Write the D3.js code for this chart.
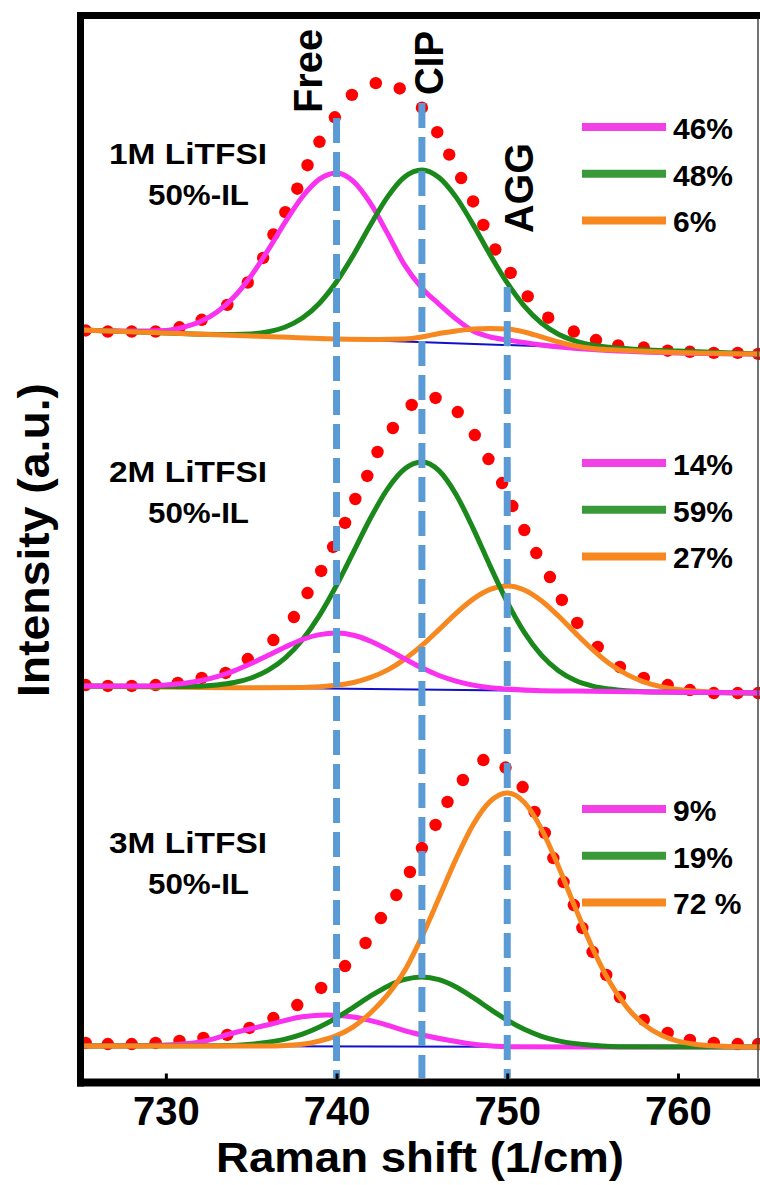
<!DOCTYPE html>
<html><head><meta charset="utf-8">
<script src="https://cdn.jsdelivr.net/npm/d3@7"></script>
<style>
html,body{margin:0;padding:0;background:#fff;overflow:hidden}
svg{display:block}
text{font-family:"Liberation Sans",Arial,Helvetica,sans-serif;font-weight:bold;fill:#000}
</style>
</head><body>
<svg id="chart" width="760" height="1185"></svg>
<script>
// ---------------- DATA ----------------
const xTicks = [730, 740, 750, 760];
const peakNames = ["Free", "CIP", "AGG"];
const peakShifts = [740, 745, 750];
const sampleNames = ["1M LiTFSI", "2M LiTFSI", "3M LiTFSI"];
const sampleSub = "50%-IL";
const fractions1 = ["46%", "48%", "6%"];
const fractions2 = ["14%", "59%", "27%"];
const fractions3 = ["9%", "19%", "72 %"];

// Panel 1 (1M) : [Raman shift, intensity a.u.]
const exp1 = [[725.3,70.5],[726.6,70.4],[728.0,70.4],[729.4,70.4],[730.8,70.8],[732.1,71.5],[733.6,72.9],[734.8,75.0],[735.7,77.3],[736.3,79.5],[737.0,81.6],[737.7,83.8],[738.3,86.0],[739.0,88.2],[739.9,90.5],[740.9,92.6],[742.3,93.7],[743.7,93.2],[745.0,91.4],[745.9,89.1],[746.6,87.0],[747.3,84.8],[748.0,82.6],[748.6,80.4],[749.3,78.1],[750.2,75.9],[751.2,73.7],[752.4,71.7],[753.9,70.4],[755.2,69.6],[756.5,69.1],[758.0,68.9],[759.4,68.6],[760.7,68.5],[762.1,68.4],[763.5,68.4],[764.7,68.3]];
const free1 = [[725,70.54],[728,70.45],[730,70.50],[731,70.79],[732,71.31],[733,72.23],[734,73.66],[735,75.64],[736,78.07],[737,80.69],[738,83.05],[739,84.70],[740,85.27],[741,84.46],[742,82.39],[743,79.56],[744,76.60],[745,74.48],[746,72.98],[747,71.58],[748,70.45],[749,69.89],[750,69.61],[752,69.14],[755,68.71],[760,68.39],[765,68.29]];
const cip1 = [[725,70.54],[730,70.26],[733,70.12],[735,70.18],[736,70.38],[737,70.83],[738,71.67],[739,73.06],[740,75.07],[741,77.61],[742,80.44],[743,83.06],[744,84.92],[745,85.56],[746,84.85],[747,83.01],[748,80.43],[749,77.59],[750,74.96],[751,72.79],[752,71.20],[753,70.15],[754,69.50],[755,69.12],[756,68.92],[758,68.68],[760,68.57],[765,68.29]];
const agg1 = [[725,70.54],[730,70.26],[735,69.98],[740,69.70],[742.5,69.66],[744,69.70],[745,69.89],[746,70.22],[747,70.45],[748,70.64],[749,70.68],[750,70.64],[751,70.36],[752,69.89],[753,69.42],[754,69.04],[755,68.81],[757,68.62],[760,68.43],[765,68.29]];
const base1 = [[725,70.54],[765,68.29]];

// Panel 2 (2M)
const exp2 = [[725.3,37.24],[726.6,37.15],[728.0,37.15],[729.4,37.24],[730.7,37.43],[732.1,37.90],[733.5,38.37],[734.8,39.68],[736.3,41.46],[737.5,43.62],[738.3,45.87],[739.1,47.94],[739.8,50.19],[740.5,52.44],[741.1,54.69],[741.8,56.85],[742.4,59.10],[743.3,61.35],[744.4,63.51],[745.8,64.17],[747.1,62.85],[748.1,60.69],[748.9,58.44],[749.7,56.19],[750.3,54.03],[751.0,51.78],[751.7,49.62],[752.5,47.37],[753.2,45.22],[754.1,43.06],[755.3,40.81],[756.6,38.93],[758.0,37.90],[759.4,37.24],[760.7,36.77],[762.1,36.49],[763.5,36.49],[764.7,36.49]];
const free2 = [[725,37.15],[728,37.14],[730,37.25],[732,37.64],[733,38.03],[734,38.57],[735,39.25],[736,40.03],[737,40.81],[738,41.51],[739,41.97],[740,42.12],[741,41.91],[742,41.35],[743,40.56],[744,39.69],[745,38.85],[746,38.13],[747,37.61],[748,37.23],[749,36.99],[750,36.86],[752,36.71],[755,36.66],[760,36.57],[765,36.49]];
const cip2 = [[725,37.15],[731,37.09],[733,37.25],[734,37.47],[735,37.90],[736,38.63],[737,39.78],[738,41.49],[739,43.77],[740,46.60],[741,49.76],[742,52.93],[743,55.66],[744,57.52],[745,58.16],[746,57.35],[747,55.12],[748,51.94],[749,48.39],[750,45.02],[751,42.18],[752,40.04],[753,38.58],[754,37.66],[755,37.14],[756,36.86],[758,36.61],[760,36.57],[765,36.49]];
const agg2 = [[725,37.15],[735,36.99],[738,37.01],[740,37.21],[741,37.48],[742,37.95],[743,38.66],[744,39.67],[745,40.95],[746,42.44],[747,43.97],[748,45.30],[749,46.21],[750,46.53],[751,46.16],[752,45.15],[753,43.72],[754,42.11],[755,40.57],[756,39.24],[757,38.24],[758,37.54],[759,37.09],[760,36.82],[761,36.67],[763,36.52],[765,36.49]];
const base2 = [[725,37.15],[765,36.49]];

// Panel 3 (3M)
const exp3 = [[725.3,3.66],[726.6,3.56],[728.0,3.56],[729.4,3.66],[730.8,3.85],[732.2,4.13],[733.6,4.41],[734.9,5.07],[736.3,6.00],[737.7,7.22],[739.1,8.82],[740.5,10.88],[741.7,13.04],[742.6,15.38],[743.5,17.54],[744.3,19.70],[745.0,21.95],[745.8,24.11],[746.5,26.27],[747.4,28.33],[748.6,30.2],[749.9,29.5],[750.9,27.67],[751.6,25.33],[752.2,23.36],[752.7,21.01],[753.3,18.76],[753.9,16.60],[754.4,14.45],[755.0,12.20],[755.8,10.04],[756.6,7.97],[758.0,5.82],[759.4,4.60],[760.7,3.94],[762.1,3.66],[763.5,3.56],[764.7,3.56]];
const free3 = [[725,3.38],[728,3.40],[730,3.47],[732,3.75],[734,4.62],[736,5.37],[738,6.12],[739.4,6.29],[741,6.10],[742.5,5.55],[744.5,4.60],[746.5,3.94],[748.4,3.47],[750.3,3.30],[755,3.28],[765,3.28]];
const cip3 = [[725,3.38],[733,3.40],[735,3.55],[736,3.73],[737,4.02],[738,4.49],[739,5.16],[740,6.02],[741,7.03],[742,8.07],[743,8.99],[744,9.62],[745,9.85],[746,9.60],[747,8.92],[748,7.93],[749,6.83],[750,5.80],[751,4.94],[752,4.29],[753,3.86],[754,3.60],[755,3.45],[757,3.30],[765,3.28]];
const agg3 = [[725,3.38],[736,3.38],[737,3.43],[738,3.54],[739,3.85],[740,4.35],[741,5.20],[742,6.50],[743,8.20],[744,10.47],[745,13.64],[746,17.26],[747,20.93],[748,24.14],[749,26.32],[750,27.11],[751,26.23],[752,23.75],[753,20.22],[754,16.29],[755,12.54],[756,9.38],[757,7.02],[758,5.41],[759,4.41],[760,3.83],[761,3.54],[762,3.39],[764,3.28],[765,3.28]];
const base3 = [[725,3.38],[765,3.28]];

// ---------------- STYLE / LAYOUT ----------------
const colors = {free: "#f832ee", cip: "#1a881a", agg: "#f7881f", dot: "#ff0000", base: "#1010c8", dash: "#5b9bd5"};
const legendColors = ["#f23fe6", "#3a9a3a", "#f7881f"];

const svg = d3.select("#chart");
const x = d3.scaleLinear().domain([725, 765]).range([80.5, 763.3]);
const y = d3.scaleLinear().domain([0, 100]).range([1082, 16]);
const line = d3.line().x(d => x(d[0])).y(d => y(d[1])).curve(d3.curveMonotoneX);

const panels = [
  {exp: exp1, base: base1, comps: [["free", free1], ["cip", cip1], ["agg", agg1]], frac: fractions1, labelY: 164, legY: 127},
  {exp: exp2, base: base2, comps: [["agg", agg2], ["cip", cip2], ["free", free2]], frac: fractions2, labelY: 482, legY: 463},
  {exp: exp3, base: base3, comps: [["free", free3], ["cip", cip3], ["agg", agg3]], frac: fractions3, labelY: 853, legY: 809}
];

const plot = svg.append("g");
panels.forEach((p, i) => {
  const g = plot.append("g");
  g.selectAll("circle").data(p.exp).join("circle")
    .attr("cx", d => x(d[0])).attr("cy", d => y(d[1])).attr("r", 6.2)
    .attr("fill", colors.dot);
  g.append("path").datum(p.base).attr("d", line)
    .attr("fill", "none").attr("stroke", colors.base).attr("stroke-width", 2);
  p.comps.forEach(([k, data]) => {
    g.append("path").datum(data).attr("d", line)
      .attr("fill", "none").attr("stroke", colors[k]).attr("stroke-width", 5)
      .attr("stroke-linejoin", "round");
  });
  // sample label
  g.append("text").attr("x", 109).attr("y", p.labelY).attr("font-size", 30)
    .attr("textLength", 158).attr("lengthAdjust", "spacingAndGlyphs").text(sampleNames[i]);
  g.append("text").attr("x", 148).attr("y", p.labelY + 41).attr("font-size", 30)
    .attr("textLength", 101).attr("lengthAdjust", "spacingAndGlyphs").text(sampleSub);
  // legend
  p.frac.forEach((f, j) => {
    const ly = p.legY + j * 46.7;
    g.append("line").attr("x1", 582).attr("x2", 666).attr("y1", ly).attr("y2", ly)
      .attr("stroke", legendColors[j]).attr("stroke-width", 8);
    g.append("text").attr("x", 673).attr("y", ly + 12).attr("font-size", 30).text(f);
  });
});

// dashed reference lines
const dashTop = [118, 103, 287];
peakShifts.forEach((s, i) => {
  svg.append("line").attr("x1", x(s)).attr("x2", x(s)).attr("y1", dashTop[i]).attr("y2", 1078)
    .attr("stroke", colors.dash).attr("stroke-width", 7).attr("stroke-dasharray", "25 9");
});
// peak labels (rotated)
const peakLabelPos = [[322, 71], [443, 63], [533, 188]];
const peakLabelLen = [84, 64, 90];
peakNames.forEach((n, i) => {
  svg.append("text")
    .attr("transform", `translate(${peakLabelPos[i][0]},${peakLabelPos[i][1]}) rotate(-90)`)
    .attr("text-anchor", "middle").attr("font-size", 41)
    .attr("textLength", peakLabelLen[i]).attr("lengthAdjust", "spacingAndGlyphs")
    .text(n);
});

// frame
svg.append("line").attr("x1", 80.5).attr("x2", 80.5).attr("y1", 12).attr("y2", 1086.5).attr("stroke", "#000").attr("stroke-width", 7);
svg.append("line").attr("x1", 77).attr("x2", 760).attr("y1", 15.5).attr("y2", 15.5).attr("stroke", "#000").attr("stroke-width", 7);
svg.append("line").attr("x1", 77).attr("x2", 760).attr("y1", 1082.5).attr("y2", 1082.5).attr("stroke", "#000").attr("stroke-width", 8);
svg.append("line").attr("x1", 758).attr("x2", 758).attr("y1", 19).attr("y2", 1078).attr("stroke", "#444").attr("stroke-width", 1.5);

// x axis
const ax = svg.append("g").attr("transform", "translate(0,1082.5)")
  .call(d3.axisBottom(x).tickValues(xTicks).tickSize(-9).tickPadding(14).tickFormat(d3.format("d")));
ax.select(".domain").remove();
ax.selectAll(".tick line").attr("stroke", "#000").attr("stroke-width", 3);
ax.selectAll(".tick text").attr("font-size", 40).attr("font-family", "Liberation Sans, Arial, sans-serif").attr("font-weight", "bold").attr("fill", "#000");

// axis titles
svg.append("text").attr("x", 420).attr("y", 1172).attr("text-anchor", "middle").attr("font-size", 43)
  .attr("textLength", 408).attr("lengthAdjust", "spacingAndGlyphs").text("Raman shift (1/cm)");
svg.append("text").attr("transform", "translate(49,540) rotate(-90)").attr("text-anchor", "middle")
  .attr("font-size", 45).attr("textLength", 314).attr("lengthAdjust", "spacingAndGlyphs").text("Intensity (a.u.)");
</script>
</body></html>
